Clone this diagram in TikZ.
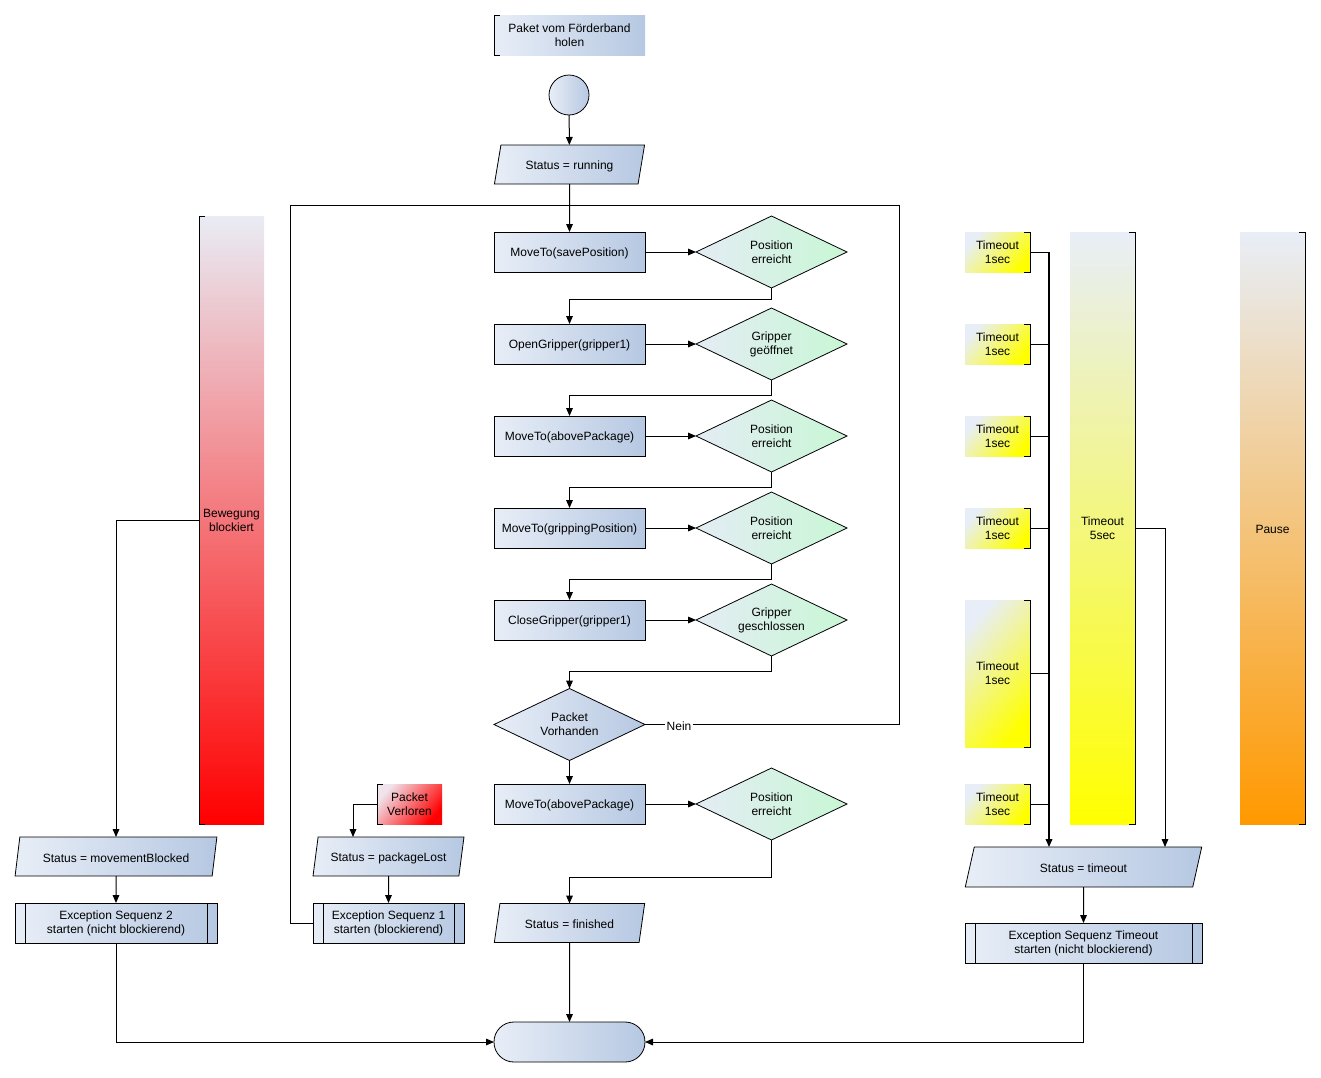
\documentclass[tikz,border=0pt]{standalone}
\usepackage{fontspec}
\setmainfont{Liberation Sans}
\usetikzlibrary{shapes.geometric,arrows.meta,calc}
\definecolor{bL}{HTML}{E8EEF7}
\definecolor{bR}{HTML}{B6C8E2}
\definecolor{gL}{HTML}{E4ECF4}
\definecolor{gR}{HTML}{C8F7D5}
\definecolor{yY}{HTML}{FFFF00}
\definecolor{oO}{HTML}{FF9900}
\definecolor{rR}{HTML}{FF0000}
\definecolor{pL}{HTML}{F0E4EC}
\newcommand\myLbr[1]{\draw[line width=0.75pt] ([xshift=4.5pt]#1.north west) -- (#1.north west) -- (#1.south west) -- ([xshift=4.5pt]#1.south west);}
\newcommand\myRbr[1]{\draw[line width=0.75pt] ([xshift=-4.5pt]#1.north east) -- (#1.north east) -- (#1.south east) -- ([xshift=-4.5pt]#1.south east);}
\begin{document}
\begin{tikzpicture}[x=0.75pt,y=-0.75pt,
  font=\fontsize{9pt}{10.5pt}\selectfont,
  >={Triangle[length=6pt,width=5pt]},
  line width=0.75pt,
  lowtxt/.style={execute at begin node={\rule{0pt}{9pt}}},
  base/.style={draw=black, line width=0.6pt, inner sep=1pt, outer sep=0pt, align=center, left color=bL, right color=bR, lowtxt},
  proc/.style={base, rectangle, minimum width=113.25pt, minimum height=30pt},
  dec/.style={base, diamond, aspect=2.1, minimum width=113.25pt, minimum height=54pt, inner sep=0pt, left color=gL, right color=gR},
  decb/.style={dec, left color=bL, right color=bR},
  io/.style={base, trapezium, trapezium left angle=76, trapezium right angle=104, trapezium stretches=true, minimum width=113.25pt, minimum height=29.25pt},
  term/.style={base, rectangle, rounded corners=14.9pt, minimum width=113.25pt, minimum height=30pt},
  note/.style={rectangle, draw=none, inner sep=1pt, outer sep=0pt, align=center, lowtxt},
  tout/.style={note, minimum width=48.75pt, minimum height=30pt, top color=bL, bottom color=yY, shading angle=50}
]
\useasboundingbox (0,0) rectangle (1321,1078);

% central column
\node[note, minimum width=113.25pt, minimum height=30pt, left color=bL, right color=bR] (ann) at (569.5,35) {Paket vom Förderband\\holen};
\node[base, circle, minimum size=30pt, inner sep=0pt] (start) at (569,95) {};
\node[io] (run) at (569.5,164.5) {Status = running};
\node[proc] (m1) at (569.5,252) {MoveTo(savePosition)};
\node[dec] (d1) at (771.5,252) {Position\\erreicht};
\node[proc] (m2) at (569.5,344) {OpenGripper(gripper1)};
\node[dec] (d2) at (771.5,344) {Gripper\\geöffnet};
\node[proc] (m3) at (569.5,436) {MoveTo(abovePackage)};
\node[dec] (d3) at (771.5,436) {Position\\erreicht};
\node[proc] (m4) at (569.5,528) {MoveTo(grippingPosition)};
\node[dec] (d4) at (771.5,528) {Position\\erreicht};
\node[proc] (m5) at (569.5,620) {CloseGripper(gripper1)};
\node[dec] (d5) at (771.5,620) {Gripper\\geschlossen};
\node[decb] (pvh) at (569.5,724.5) {Packet\\Vorhanden};
\node[proc] (m6) at (569.5,804) {MoveTo(abovePackage)};
\node[dec] (d6) at (771.5,804) {Position\\erreicht};
\node[io] (fin) at (569.5,923) {Status = finished};
\node[term] (end) at (569.5,1042) {};

% left column
\node[note, minimum width=48.75pt, minimum height=456pt, top color=bL!95!pink, bottom color=rR] (bb) at (231.5,520) {Bewegung\\blockiert};
\node[io, minimum width=151.5pt] (mb) at (116,856.5) {Status = movementBlocked};
\node[proc, minimum width=151.5pt] (ex2) at (116,923) {Exception Sequenz 2\\starten (nicht blockierend)};
\node[note, minimum width=48.75pt, minimum height=30pt, top color=pL, bottom color=rR, shading angle=50] (pv) at (409.5,804) {Packet\\Verloren};
\node[io] (pl) at (388.5,856.5) {Status = packageLost};
\node[proc] (ex1) at (388.5,923) {Exception Sequenz 1\\starten (blockierend)};

% right column
\node[tout] (t1) at (997.5,252) {Timeout\\1sec};
\node[tout] (t2) at (997.5,344) {Timeout\\1sec};
\node[tout] (t3) at (997.5,436) {Timeout\\1sec};
\node[tout] (t4) at (997.5,528) {Timeout\\1sec};
\node[tout, minimum height=110.25pt] (t5) at (997.5,673.5) {Timeout\\1sec};
\node[tout] (t6) at (997.5,804) {Timeout\\1sec};
\node[note, minimum width=48.75pt, minimum height=444pt, top color=bL, bottom color=yY] (tf) at (1102.5,528) {Timeout\\5sec};
\node[note, minimum width=48.75pt, minimum height=444pt, top color=bL, bottom color=oO] (pause) at (1272.5,528) {Pause};
\node[io, minimum width=177.75pt, minimum height=30pt] (st) at (1083.5,867) {Status = timeout};
\node[proc, minimum width=177.75pt] (ext) at (1083.5,943) {Exception Sequenz Timeout\\starten (nicht blockierend)};

% brackets
\myLbr{ann}\myLbr{bb}\myLbr{pv}
\myRbr{t1}\myRbr{t2}\myRbr{t3}\myRbr{t4}\myRbr{t5}\myRbr{t6}\myRbr{tf}\myRbr{pause}

% subprocess inner lines
\foreach \n in {ex1,ex2,ext}{
  \draw[line width=0.6pt] ([xshift=7.5pt]\n.north west) -- ([xshift=7.5pt]\n.south west);
  \draw[line width=0.6pt] ([xshift=-7.5pt]\n.north east) -- ([xshift=-7.5pt]\n.south east);
}

% coordinates
\coordinate (j) at (569.5,205);
\coordinate (lc) at (290,205);
\coordinate (rc) at (899,205);
\coordinate (rn) at (899,724.5);
\coordinate (plin) at (353,837);
\coordinate (trT) at (1049,252);
\coordinate (trB) at (1049,847);
\coordinate (tfB) at (1165,847);

% connectors
\draw[->] (start) -- (run);
\draw[->] (run) -- (m1);
\draw (ex1.west) -| (lc) -- (j);
\draw (pvh.east) -- node[pos=0.134, fill=white, inner sep=1pt, lowtxt]{Nein} (rn) -- (rc) -- (j);
\foreach \a/\b in {m1/d1,m2/d2,m3/d3,m4/d4,m5/d5,m6/d6}{\draw[->] (\a) -- (\b);}
\draw[->] (d1.south) -- ++(0,11) -| (m2.north);
\draw[->] (d2.south) -- ++(0,15) -| (m3.north);
\draw[->] (d3.south) -- ++(0,15) -| (m4.north);
\draw[->] (d4.south) -- ++(0,15) -| (m5.north);
\draw[->] (d5.south) -- ++(0,15) -| (pvh.north);
\draw[->] (pvh.south) -- (m6.north);
\draw[->] (d6.south) -- ++(0,37) -| (fin.north);
\draw[->] (fin.south) -- (end.north);

\draw[->] (bb.west) -| (mb.north);
\draw[->] (mb.south) -- (ex2.north);
\draw[->] (ex2.south) |- (end.west);
\draw[->] (pv.west) -| (plin);
\draw[->] (pl.south) -- (ex1.north);

\foreach \n in {t1,t2,t3,t4,t5,t6}{\draw (\n.east) -- (\n.east -| trT);}
\draw[->, line width=1.1pt] (trT) -- (trB);
\draw[->] (tf.east) -| (tfB);
\draw[->] (st.south) -- (ext.north);
\draw[->] (ext.south) |- (end.east);
\end{tikzpicture}
\end{document}
